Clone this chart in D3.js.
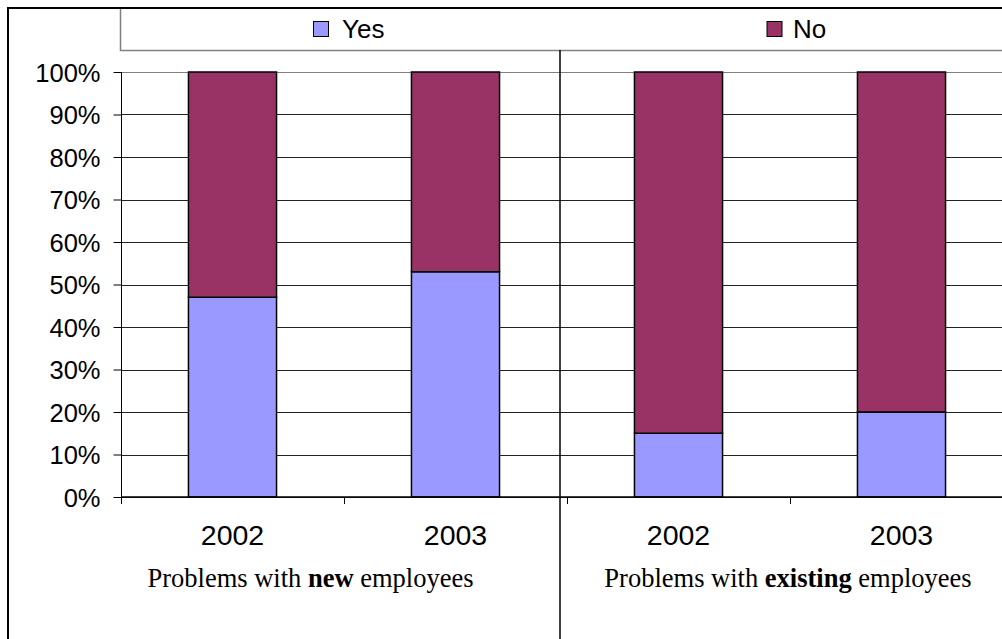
<!DOCTYPE html>
<html>
<head>
<meta charset="utf-8">
<script src="https://cdn.jsdelivr.net/npm/d3@7"></script>
<style>
  html, body { margin: 0; padding: 0; background: #fff; }
  svg { display: block; }
</style>
</head>
<body>
<svg id="chart" width="1002" height="639"></svg>
<script>
// ---- data ----
const categories = ["2002", "2003", "2002", "2003"];
const groupIndex = [0, 0, 1, 1];
const yesValues = [47, 53, 15, 20];
const noValues = [53, 47, 85, 80];
const seriesNames = ["Yes", "No"];
const seriesColors = ["#9999FF", "#993366"];
const yTickValues = [0, 10, 20, 30, 40, 50, 60, 70, 80, 90, 100];
const groupPrefix = ["Problems with ", "Problems with "];
const groupBold = ["new", "existing"];
const groupSuffix = [" employees", " employees"];

// ---- layout ----
const W = 1002, H = 639;
const svg = d3.select("#chart");
const plotLeft = 121, plotRight = 1013, plotTop = 72, plotBottom = 497;

const x = d3.scaleBand().domain(d3.range(categories.length)).range([plotLeft, plotRight]).padding(0);
const barW = x.bandwidth() * 0.395;
const y = d3.scaleLinear().domain([0, 100]).range([plotBottom, plotTop]);

// outer frame
svg.append("rect").attr("x", 8).attr("y", 8).attr("width", W + 20).attr("height", H + 20)
  .attr("fill", "#fff").attr("stroke", "#000").attr("stroke-width", 2);

// legend box
svg.append("rect").attr("x", 120.5).attr("y", 8).attr("width", W).attr("height", 42.5)
  .attr("fill", "#fff").attr("stroke", "#808080").attr("stroke-width", 1.5);
svg.append("line").attr("x1", 8).attr("x2", W).attr("y1", 8).attr("y2", 8)
  .attr("stroke", "#000").attr("stroke-width", 2);

const legendPos = [[313.5, 342], [767, 793]];
seriesNames.forEach((name, i) => {
  svg.append("rect").attr("x", legendPos[i][0]).attr("y", 21.5).attr("width", 15).attr("height", 15)
    .attr("fill", seriesColors[i]).attr("stroke", "#000").attr("stroke-width", 1);
  svg.append("text").attr("x", legendPos[i][1]).attr("y", 37.5)
    .attr("font-family", "Liberation Sans, Arial, sans-serif").attr("font-size", 26)
    .attr("fill", "#000").text(name);
});

// gridlines
svg.append("g").selectAll("line").data(yTickValues).join("line")
  .attr("x1", plotLeft).attr("x2", W)
  .attr("y1", d => Math.round(y(d)) + 0.5).attr("y2", d => Math.round(y(d)) + 0.5)
  .attr("stroke", d => d === 100 ? "#808080" : "#222").attr("stroke-width", 1);

// y axis
const yAxis = d3.axisLeft(y).tickValues(yTickValues).tickFormat(d => d + "%").tickSize(8).tickPadding(13);
const gy = svg.append("g").attr("transform", `translate(${plotLeft + 0.5},0)`).call(yAxis);
gy.select(".domain").attr("stroke", "#000").attr("d", `M0,${plotTop}V${plotBottom}`);
gy.selectAll(".tick line").attr("stroke", "#000");
gy.selectAll(".tick text").attr("font-family", "Liberation Sans, Arial, sans-serif")
  .attr("font-size", 25.5).attr("fill", "#000").attr("dy", "0.36em");

// bars
const stackData = categories.map((c, i) => ({ i, yes: yesValues[i], no: noValues[i] }));
const stack = d3.stack().keys(["yes", "no"])(stackData);
stack.forEach((layer, k) => {
  svg.append("g").selectAll("rect").data(layer).join("rect")
    .attr("x", d => x(d.data.i) + (x.bandwidth() - barW) / 2)
    .attr("width", barW)
    .attr("y", d => y(d[1]))
    .attr("height", d => y(d[0]) - y(d[1]))
    .attr("fill", seriesColors[k]).attr("stroke", "#000").attr("stroke-width", 1.5);
});

// x axis
const xAxis = d3.axisBottom(x).tickFormat(i => categories[i]).tickSize(0).tickPadding(28);
const gx = svg.append("g").attr("transform", `translate(0,${plotBottom})`).call(xAxis);
gx.select(".domain").attr("stroke", "#000").attr("stroke-width", 1.5).attr("d", `M${plotLeft},0H${W}`);
gx.selectAll(".tick text").attr("font-family", "Liberation Sans, Arial, sans-serif")
  .attr("font-size", 28.5).attr("fill", "#000");
// tick marks between categories
const boundaries = d3.range(categories.length + 1).map(i => plotLeft + i * x.step());
svg.append("g").selectAll("line").data(boundaries).join("line")
  .attr("x1", d => d + 0.5).attr("x2", d => d + 0.5)
  .attr("y1", plotBottom).attr("y2", plotBottom + 7)
  .attr("stroke", "#000").attr("stroke-width", 1);

// group divider
svg.append("line").attr("x1", 560).attr("x2", 560).attr("y1", 50).attr("y2", H)
  .attr("stroke", "#000").attr("stroke-width", 1.5);

// group labels
const groupCenters = [310.5, 788];
groupBold.forEach((b, g) => {
  const t = svg.append("text").attr("x", groupCenters[g]).attr("y", 587)
    .attr("text-anchor", "middle")
    .attr("font-family", "Liberation Serif, Times New Roman, serif").attr("font-size", 26.5)
    .attr("fill", "#000");
  t.append("tspan").text(groupPrefix[g]);
  t.append("tspan").attr("font-weight", "bold").text(b);
  t.append("tspan").text(groupSuffix[g]);
});
</script>
</body>
</html>
